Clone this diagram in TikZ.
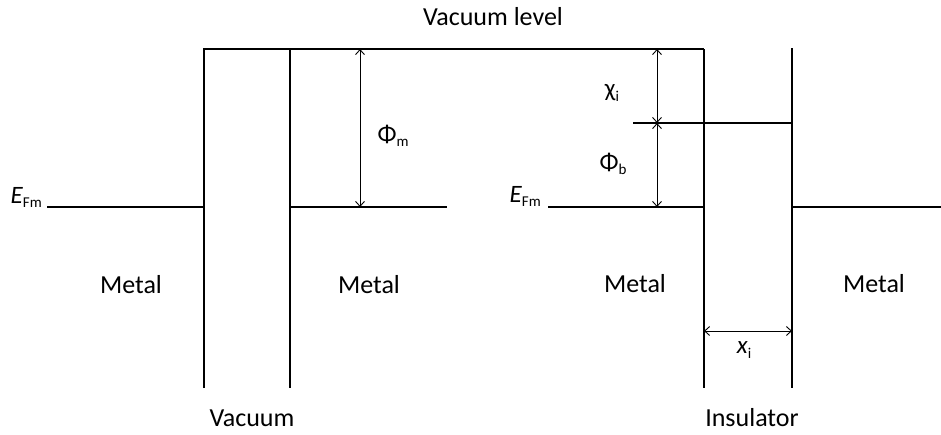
\documentclass[tikz,border=0pt]{standalone}
\usepackage{fontspec}
\setmainfont{Carlito}
\usetikzlibrary{arrows.meta}
\newcommand\mysub[1]{\raisebox{-0.35ex}{\fontsize{15}{15}\selectfont #1}}
\begin{document}
\begin{tikzpicture}[x=1pt,y=-1pt,
  heavy/.style={line width=2.8pt,line join=miter,line cap=butt},
  light/.style={line width=1.1pt},
  dim/.style={line width=0.9pt,{Straight Barb[length=5pt,width=9pt]}-{Straight Barb[length=5pt,width=9pt]}},
  lbl/.style={font=\fontsize{26}{30}\selectfont,inner sep=0pt},
  sym/.style={font=\fontsize{25}{28}\selectfont,inner sep=0pt}]
\useasboundingbox (0,0) rectangle (941,434);
\fill[white] (0,0) rectangle (941,434);
% coordinates left part
\coordinate (LEa) at (47,207);
\coordinate (LEb) at (204,207);
\coordinate (B1bot) at (204,388);
\coordinate (B1top) at (204,49);
\coordinate (B2top) at (290,49);
\coordinate (B2bot) at (290,388);
\coordinate (MEa) at (290,207);
\coordinate (MEb) at (447,207);
\coordinate (PmT) at (360,49);
\coordinate (PmB) at (360,207);
% coordinates right part
\coordinate (REa) at (548,207);
\coordinate (I1top) at (704,49);
\coordinate (I1mid) at (704,207);
\coordinate (I1bot) at (704,388);
\coordinate (I1band) at (704,123);
\coordinate (I2top) at (792,48);
\coordinate (I2bot) at (792,388);
\coordinate (I2band) at (792,123);
\coordinate (I2mid) at (792,207);
\coordinate (REb) at (941,207);
\coordinate (Tick) at (633,123);
\coordinate (ChT) at (657,49);
\coordinate (ChM) at (657,123);
\coordinate (ChB) at (657,207);
\coordinate (XiL) at (704,331);
\coordinate (XiR) at (792,331);
% left drawing
\draw[heavy] (LEa) -- (LEb);
\draw[heavy] (B1bot) -- (B1top) -- (B2top) -- (B2bot);
\draw[heavy] (MEa) -- (MEb);
\draw[light] (B2top) -- (I1top);
\draw[dim] (PmT) -- (PmB);
% right drawing
\draw[heavy] (REa) -- (I1mid);
\draw[heavy] (I1top) -- (I1bot);
\draw[heavy] (I2top) -- (I2bot);
\draw[heavy] (I1band) -- (I2band);
\draw[heavy] (I2mid) -- (REb);
\draw[light] (Tick) -- (I1band);
\draw[dim] (ChT) -- (ChM);
\draw[dim] (ChM) -- (ChB);
\draw[dim] (XiL) -- (XiR);
% labels
\node[lbl] (vl) at (493,17) {Vacuum level};
\node[sym,anchor=base east] (ef1) at (42,203) {\textit{E}\mysub{Fm}};
\node[sym,anchor=base east] (ef2) at (541,202) {\textit{E}\mysub{Fm}};
\node[sym] (phim) at (393,136) {Φ\mysub{m}};
\node[sym] (chii) at (612,93) {χ\mysub{i}};
\node[sym] (phib) at (613,164) {Φ\mysub{b}};
\node[sym] (xi) at (744,350) {\textit{x}\mysub{i}};
\node[lbl] (m1) at (131,285) {Metal};
\node[lbl] (m2) at (369,285) {Metal};
\node[lbl] (m3) at (635,284) {Metal};
\node[lbl] (m4) at (874,284) {Metal};
\node[lbl] (vac) at (252,418) {Vacuum};
\node[lbl] (ins) at (752,418) {Insulator};
\end{tikzpicture}
\end{document}
